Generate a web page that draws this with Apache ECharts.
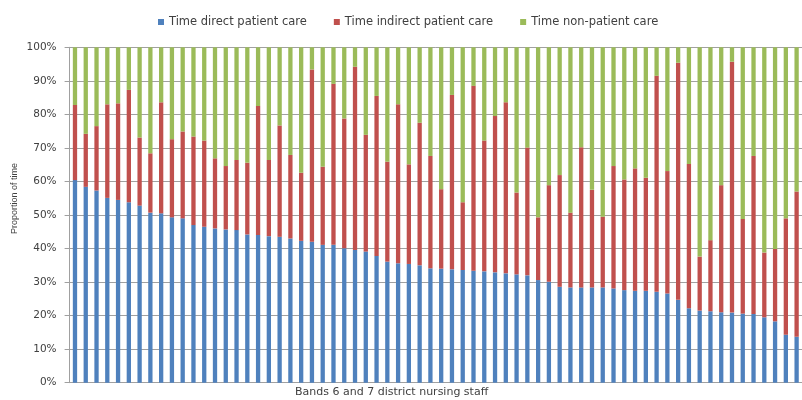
<!DOCTYPE html>
<html>
<head>
<meta charset="utf-8">
<script src="https://cdn.jsdelivr.net/npm/echarts@6/dist/echarts.min.js"></script>
<style>
html,body{margin:0;padding:0;background:#fff;}
#chart{width:802px;height:400px;}
</style>
</head>
<body>
<div id="chart"></div>
<script>
// Staff members (x categories, unlabeled)
const staff = ["1","2","3","4","5","6","7","8","9","10","11","12","13","14","15","16","17","18","19","20",
"21","22","23","24","25","26","27","28","29","30","31","32","33","34","35","36","37","38","39","40",
"41","42","43","44","45","46","47","48","49","50","51","52","53","54","55","56","57","58","59","60",
"61","62","63","64","65","66","67","68"];

const seriesNames = ["Time direct patient care","Time indirect patient care","Time non-patient care"];

// % of time in direct patient care
const directCare = [60.4,58.4,57.3,55.1,54.5,53.8,52.8,50.7,50.5,49.3,49.0,47.0,46.5,46.0,45.7,45.5,44.2,44.0,43.7,43.5,
43.0,42.3,42.0,41.1,41.1,40.1,39.6,39.1,37.8,36.1,35.6,35.4,35.0,34.1,34.0,33.8,33.6,33.4,33.2,32.9,
32.6,32.3,32.0,30.6,30.1,28.6,28.4,28.4,28.4,28.4,28.1,27.6,27.4,27.4,27.1,26.6,24.7,22.2,21.5,21.3,
21.0,20.9,20.6,20.5,19.5,18.3,14.3,13.7];

// % of time in indirect patient care
const indirectCare = [22.4,15.8,19.2,27.9,28.8,33.5,20.3,17.7,33.1,23.3,25.9,26.4,25.7,20.9,18.9,20.9,21.4,38.5,22.7,33.2,
24.9,20.3,51.4,23.3,48.0,38.7,54.6,34.8,47.7,29.8,47.4,29.7,42.5,33.5,23.7,52.0,20.2,55.1,39.0,46.6,
51.0,24.4,38.1,18.7,28.8,33.3,22.3,41.8,29.1,21.1,36.5,33.0,36.5,33.7,64.4,36.5,70.7,43.0,16.1,21.2,
37.9,74.8,28.2,47.1,19.3,21.6,34.7,43.3];

// % of time in non-patient care
const nonPatientCare = [17.2,25.8,23.5,17.0,16.7,12.7,26.9,31.6,16.4,27.4,25.1,26.6,27.8,33.1,35.4,33.6,34.4,17.5,33.6,23.3,
32.1,37.4,6.6,35.6,10.9,21.2,5.8,26.1,14.5,34.1,17.0,34.9,22.5,32.4,42.3,14.2,46.2,11.5,27.8,20.5,
16.4,43.3,29.9,50.7,41.1,38.1,49.3,29.8,42.5,50.5,35.4,39.4,36.1,38.9,8.5,36.9,4.6,34.8,62.4,57.5,
41.1,4.3,51.2,32.4,61.2,60.1,51.0,43.0];

const yTicks = [0,10,20,30,40,50,60,70,80,90,100];

const colors = ["#4F81BD","#C0504D","#9BBB59"];
const gridColor = "#a0a0a0";
const textColor = "#404040";

const chart = echarts.init(document.getElementById('chart'), null, {renderer:'canvas'});

const valueLists = [directCare, indirectCare, nonPatientCare];

chart.setOption({
  animation:false,
  color: colors,
  legend:{
    data: seriesNames,
    left: 153, top: 11,
    icon: 'rect', itemWidth: 6, itemHeight: 6, itemGap: 27,
    textStyle:{fontFamily:'DejaVu Sans', fontSize:11.5, color:textColor}
  },
  grid:{left:69.6, right:-4, top:47.3, bottom:17.3, containLabel:false},
  xAxis:{
    type:'category', data: staff,
    axisLine:{show:true, lineStyle:{color:gridColor, width:1}},
    axisTick:{show:false}, axisLabel:{show:false}, splitLine:{show:false}
  },
  yAxis:{
    type:'value', min: yTicks[0], max: yTicks[yTicks.length-1], interval: yTicks[1]-yTicks[0],
    axisLine:{show:true, lineStyle:{color:gridColor, width:1}},
    axisTick:{show:true, length:5, lineStyle:{color:gridColor}},
    axisLabel:{formatter:'{value}%', fontFamily:'DejaVu Sans', fontSize:10.5, color:textColor, margin:13},
    splitLine:{show:true, lineStyle:{color:gridColor, width:1}}
  },
  graphic:[
    {type:'text', left: 295, top: 387, style:{text:'Bands 6 and 7 district nursing staff', font:'11px "DejaVu Sans"', fill:textColor}},
    {type:'text', x: 10, y: 234, rotation: Math.PI/2, style:{text:'Proportion of time', font:'9px "Liberation Sans"', fill:textColor}}
  ],
  series: seriesNames.map((n,i)=>({
    name:n, type:'bar', stack:'total', data: valueLists[i], barWidth:4.3,
    itemStyle:{color:colors[i]}
  }))
});
</script>
</body>
</html>
